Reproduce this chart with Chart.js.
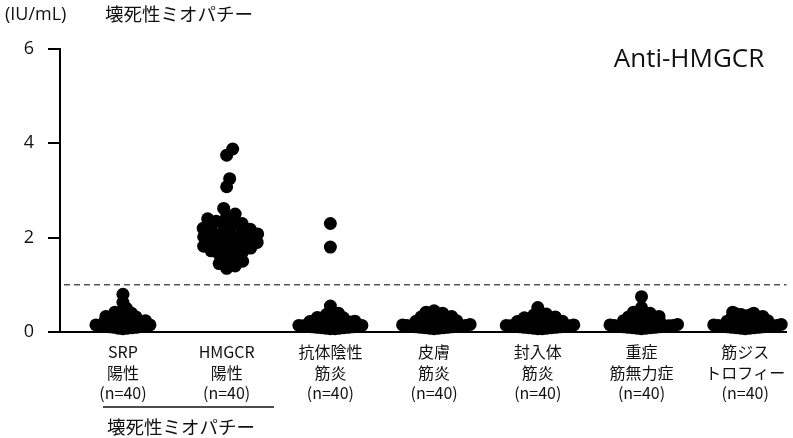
<!DOCTYPE html>
<html>
<head>
<meta charset="utf-8">
<script src="https://cdn.jsdelivr.net/npm/chart.js@4.4.1/dist/chart.umd.min.js"></script>
<style>
  html, body { margin: 0; padding: 0; background: #fff; }
  #wrap { width: 793px; height: 438px; }
</style>
</head>
<body>
<div id="wrap"><canvas id="chart"></canvas></div>
<script>
// categories (multi-line tick labels)
const groupLabels = [
    ['SRP', '陽性', '(n=40)'],
    ['HMGCR', '陽性', '(n=40)'],
    ['抗体陰性', '筋炎', '(n=40)'],
    ['皮膚', '筋炎', '(n=40)'],
    ['封入体', '筋炎', '(n=40)'],
    ['重症', '筋無力症', '(n=40)'],
    ['筋ジス', 'トロフィー', '(n=40)']
];

// anti-HMGCR values (IU/mL)
const srpValues = [0.8, 0.63, 0.5, 0.45, 0.42, 0.4, 0.38, 0.36, 0.35, 0.33, 0.32, 0.3, 0.3, 0.28, 0.27, 0.26, 0.25, 0.24, 0.23, 0.22,
    0.21, 0.2, 0.19, 0.18, 0.18, 0.17, 0.16, 0.15, 0.15, 0.14, 0.13, 0.12, 0.12, 0.11, 0.1, 0.1, 0.09, 0.08, 0.08, 0.07];
const hmgcrValues = [3.88, 3.75, 3.25, 3.08, 2.62, 2.5, 2.45, 2.4, 2.35, 2.3, 2.28, 2.25, 2.2, 2.18, 2.15, 2.12, 2.1, 2.08, 2.05, 2.02,
    2.0, 1.98, 1.95, 1.92, 1.9, 1.88, 1.85, 1.82, 1.8, 1.78, 1.75, 1.72, 1.7, 1.65, 1.6, 1.55, 1.5, 1.45, 1.4, 1.35];
const negValues = [2.3, 1.8, 0.55, 0.4, 0.37, 0.35, 0.33, 0.31, 0.3, 0.28, 0.27, 0.26, 0.25, 0.24, 0.23, 0.22, 0.21, 0.2, 0.2, 0.19,
    0.18, 0.17, 0.16, 0.16, 0.15, 0.14, 0.14, 0.13, 0.12, 0.12, 0.11, 0.11, 0.1, 0.1, 0.09, 0.09, 0.08, 0.08, 0.07, 0.07];
const dmValues = [0.45, 0.42, 0.4, 0.38, 0.36, 0.35, 0.33, 0.32, 0.3, 0.29, 0.28, 0.27, 0.26, 0.25, 0.24, 0.23, 0.22, 0.21, 0.2, 0.2,
    0.19, 0.18, 0.17, 0.16, 0.16, 0.15, 0.14, 0.14, 0.13, 0.12, 0.12, 0.11, 0.11, 0.1, 0.1, 0.09, 0.09, 0.08, 0.08, 0.07];
const ibmValues = [0.52, 0.38, 0.36, 0.34, 0.33, 0.32, 0.3, 0.29, 0.28, 0.27, 0.26, 0.25, 0.24, 0.23, 0.22, 0.21, 0.2, 0.2, 0.19, 0.18,
    0.17, 0.16, 0.16, 0.15, 0.15, 0.14, 0.13, 0.13, 0.12, 0.12, 0.11, 0.11, 0.1, 0.1, 0.09, 0.09, 0.08, 0.08, 0.07, 0.07];
const mgValues = [0.75, 0.52, 0.42, 0.4, 0.38, 0.36, 0.35, 0.33, 0.32, 0.3, 0.29, 0.28, 0.27, 0.26, 0.25, 0.24, 0.23, 0.22, 0.21, 0.2,
    0.19, 0.18, 0.17, 0.16, 0.16, 0.15, 0.14, 0.14, 0.13, 0.12, 0.12, 0.11, 0.11, 0.1, 0.1, 0.09, 0.09, 0.08, 0.08, 0.07];
const mdValues = [0.42, 0.4, 0.38, 0.37, 0.36, 0.34, 0.33, 0.32, 0.3, 0.29, 0.28, 0.27, 0.26, 0.25, 0.24, 0.23, 0.22, 0.21, 0.2, 0.2,
    0.19, 0.18, 0.17, 0.16, 0.16, 0.15, 0.14, 0.14, 0.13, 0.12, 0.12, 0.11, 0.11, 0.1, 0.1, 0.09, 0.09, 0.08, 0.08, 0.07];

const groupValues = [srpValues, hmgcrValues, negValues, dmValues, ibmValues, mgValues, mdValues];
const yTicks = [0, 2, 4, 6];
const cutoff = 1.0;

const CJK = '"Noto Sans CJK JP", sans-serif';
const LATIN = '"Open Sans", "Noto Sans", sans-serif';

// lay points out as a beeswarm in pixel space, then convert back to x units
function swarm(values, center, xScale, yScale) {
    const pxPerX = xScale.getPixelForValue(1) - xScale.getPixelForValue(0);
    const sorted = values.slice().sort((a, b) => a - b);
    const median = sorted[Math.floor(sorted.length / 2)];
    // the tall HMGCR cloud is looser, the low clouds are packed tightly
    const minDist = median > 1 ? 8.5 : 4.2;
    const order = values.map((v, i) => i).sort((a, b) => values[a] - values[b]);
    const placed = [];
    const out = new Array(values.length);
    order.forEach(i => {
        const py = yScale.getPixelForValue(values[i]);
        let best = 0;
        for (let k = 0; k < 600; k++) {
            const dx = (k % 2 ? 1 : -1) * Math.ceil(k / 2) * 0.5;
            if (placed.every(p => Math.hypot(p.x - dx, p.y - py) >= minDist)) { best = dx; break; }
        }
        placed.push({ x: best, y: py });
        out[i] = { x: center + best / pxPerX, y: values[i] };
    });
    return out;
}

const annotations = {
    id: 'annotations',
    beforeDatasetsDraw(chart) {
        const { ctx, chartArea, scales } = chart;
        const y = scales.y.getPixelForValue(cutoff);
        ctx.save();
        ctx.strokeStyle = '#555';
        ctx.lineWidth = 1.5;
        ctx.setLineDash([6, 4]);
        ctx.beginPath();
        ctx.moveTo(chartArea.left + 4, y);
        ctx.lineTo(chartArea.right, y);
        ctx.stroke();
        ctx.restore();
    },
    afterDraw(chart) {
        const { ctx } = chart;
        ctx.save();
        ctx.fillStyle = '#111';
        ctx.textBaseline = 'middle';
        ctx.textAlign = 'left';
        ctx.font = '18px ' + LATIN;
        ctx.fillText('(IU/mL)', 5, 15);
        ctx.font = '18.5px ' + CJK;
        ctx.fillText('壊死性ミオパチー', 105, 14);
        ctx.fillText('壊死性ミオパチー', 107, 427);
        ctx.font = '26px ' + LATIN;
        ctx.textAlign = 'center';
        ctx.fillText('Anti-HMGCR', 689, 60);
        // bracket under the two necrotizing myopathy groups
        ctx.strokeStyle = '#111';
        ctx.lineWidth = 1.5;
        ctx.beginPath();
        ctx.moveTo(103, 407);
        ctx.lineTo(274, 407);
        ctx.stroke();
        ctx.restore();
    }
};

const ctx = document.getElementById('chart').getContext('2d');
const chart = new Chart(ctx, {
    type: 'scatter',
    data: {
        datasets: groupValues.map((vals, g) => ({
            data: vals.map(v => ({ x: g, y: v })),
            backgroundColor: '#000',
            borderColor: '#000',
            borderWidth: 0,
            pointRadius: 6.5,
            clip: false
        }))
    },
    options: {
        responsive: true,
        maintainAspectRatio: false,
        animation: false,
        events: [],
        layout: { padding: { top: 49, right: 0, left: 0, bottom: 0 } },
        plugins: {
            legend: { display: false },
            tooltip: { enabled: false }
        },
        scales: {
            x: {
                type: 'linear',
                min: -0.607,
                max: 6.398,
                afterBuildTicks: scale => { scale.ticks = groupLabels.map((l, i) => ({ value: i })); },
                afterFit: scale => { scale.height = 106; },
                grid: { display: false },
                border: { display: true, color: '#000', width: 2 },
                ticks: {
                    autoSkip: false,
                    maxRotation: 0,
                    padding: 2,
                    color: '#111',
                    font: { family: CJK, size: 16, lineHeight: 1.28 },
                    callback: v => groupLabels[v]
                }
            },
            y: {
                min: 0,
                max: 6,
                afterBuildTicks: scale => { scale.ticks = yTicks.map(v => ({ value: v })); },
                afterFit: scale => { scale.width = 60; },
                grid: { drawOnChartArea: false, drawTicks: true, tickLength: 12, color: '#000', lineWidth: 2 },
                border: { display: true, color: '#000', width: 2 },
                ticks: {
                    padding: 14,
                    color: '#111',
                    font: { family: LATIN, size: 18 }
                }
            }
        }
    },
    plugins: [annotations]
});

chart.data.datasets.forEach((ds, g) => {
    ds.data = swarm(groupValues[g], g, chart.scales.x, chart.scales.y);
});
chart.update('none');
</script>
</body>
</html>
